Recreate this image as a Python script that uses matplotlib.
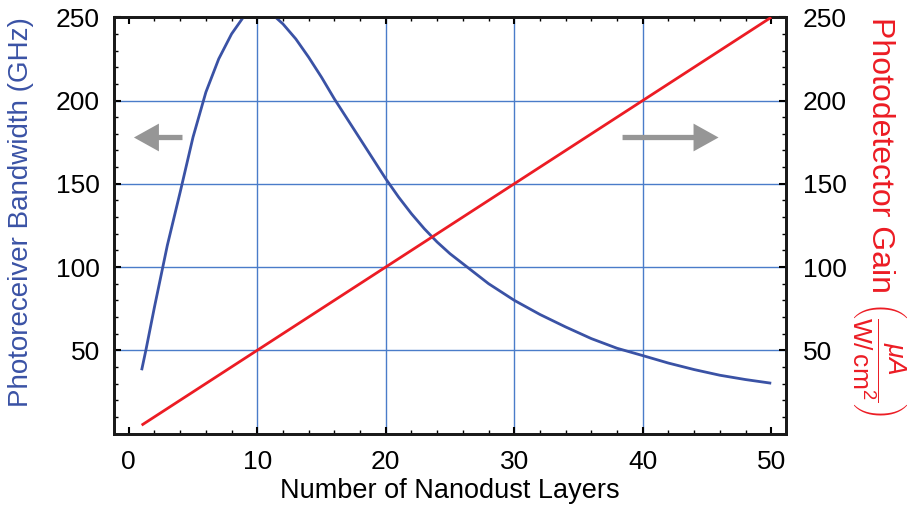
import matplotlib
matplotlib.use("Agg")
import matplotlib.pyplot as plt
from matplotlib.ticker import MultipleLocator

plt.rcParams['font.family'] = ['Liberation Sans', 'DejaVu Sans']
plt.rcParams['mathtext.fontset'] = 'custom'
plt.rcParams['mathtext.rm'] = 'Liberation Sans'
plt.rcParams['mathtext.it'] = 'Liberation Sans:italic'

# Data
layers_bw = [1, 1.33, 2, 3, 4, 5, 6, 7, 8, 9, 10, 11, 12, 13, 14, 15, 16, 17, 18,
             19, 20, 21, 22, 23, 24, 25, 26, 28, 30, 32, 34, 36, 38, 40, 42, 44,
             46, 48, 50]
bandwidth = [38, 50, 76, 113, 145, 178, 205, 225, 240, 251, 256, 253, 246, 237,
             226, 214, 201, 189, 177, 165, 153, 142, 132, 123, 115, 108, 102, 90,
             80, 71.5, 64, 57, 51.2, 46.8, 42.3, 38.4, 35, 32.4, 30.2]
layers_gain = [1, 50]
gain = [5, 250]
xticks = [0, 10, 20, 30, 40, 50]
yticks = [50, 100, 150, 200, 250]

BLUE = '#3a52a5'
RED = '#ec1c24'
GRID = '#4a7cc9'
GREY = '#969696'

fig = plt.figure(figsize=(9.1, 5.08), dpi=100)
ax = fig.add_axes([114/910, 1-433.5/508, 672/910, 416.2/508])

ax.set_xlim(-1.15, 51.15)
ax.set_ylim(0, 250)

for xv in [10, 20, 30, 40]:
    ax.axvline(xv, color=GRID, lw=1.0, zorder=0)
for yv in [50, 100, 150, 200]:
    ax.axhline(yv, color=GRID, lw=1.0, zorder=0)

ax.plot(layers_bw, bandwidth, color=BLUE, lw=2.0, zorder=3, solid_capstyle='butt')

ax2 = ax.twinx()
ax2.set_ylim(0, 250)
ax2.plot(layers_gain, gain, color=RED, lw=2.0, zorder=3, solid_capstyle='butt')

ax.set_xticks(xticks)
ax.set_yticks(yticks)
ax2.set_yticks(yticks)
ax.xaxis.set_minor_locator(MultipleLocator(2))
ax.yaxis.set_minor_locator(MultipleLocator(10))
ax2.yaxis.set_minor_locator(MultipleLocator(10))

for a in (ax, ax2):
    for s in a.spines.values():
        s.set_linewidth(2.0)
        s.set_color('#1a1a1a')
ax.tick_params(axis='x', which='major', direction='in', length=5, width=1.5,
               labelsize=19, top=True, pad=12)
ax.tick_params(axis='y', which='major', direction='in', length=5, width=1.5,
               labelsize=19, pad=10)
ax.tick_params(axis='both', which='minor', direction='in', length=3, width=1.0, top=True)
ax2.tick_params(axis='y', which='major', direction='in', length=5, width=1.5,
                labelsize=19, pad=12)
ax2.tick_params(axis='y', which='minor', direction='in', length=3, width=1.0)

ax.set_xlabel('Number of Nanodust Layers', fontsize=19.5, labelpad=3)

fig.text(21/910, 1-212.5/508, 'Photoreceiver Bandwidth (GHz)', color=BLUE,
         fontsize=20, rotation=90, ha='center', va='center')
fig.text(880/910, 1-155/508, 'Photodetector Gain', color=RED,
         fontsize=23, rotation=270, ha='center', va='center')
fig.text(879/910, 1-359/508,
         r'$\left(\dfrac{\mathit{\mu A}}{\mathrm{W/\,cm^2}}\right)$',
         color=RED, fontsize=19, rotation=270, ha='center', va='center')

arrow_kw = dict(arrowstyle='simple,head_length=0.9,head_width=1.0,tail_width=0.19',
                color=GREY, lw=0, shrinkA=0, shrinkB=0, mutation_scale=20)
ax.annotate('', xy=(0.4, 177.8), xytext=(4.18, 177.8), arrowprops=arrow_kw, zorder=4)
ax.annotate('', xy=(45.9, 177.8), xytext=(38.43, 177.8), arrowprops=arrow_kw, zorder=4)

fig.savefig('out.png', dpi=100)
